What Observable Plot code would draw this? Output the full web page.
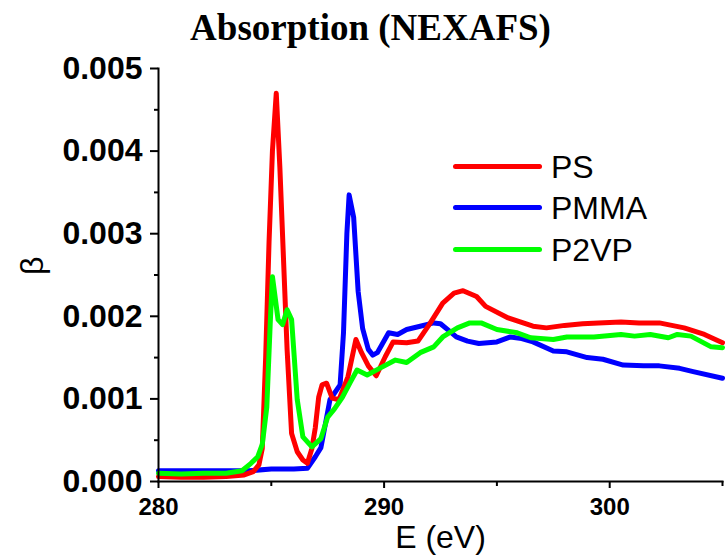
<!DOCTYPE html>
<html>
<head>
<meta charset="utf-8">
<script src="https://cdn.jsdelivr.net/npm/d3@7"></script>
<script src="https://cdn.jsdelivr.net/npm/@observablehq/plot@0.6"></script>
<style>
  html, body { margin: 0; padding: 0; background: #fff; }
  #wrap { position: relative; width: 725px; height: 555px; overflow: hidden; }
  .leg-line { position: absolute; height: 5px; border-radius: 2.5px; }
  .leg-text { position: absolute; font: 32px "Liberation Sans", Arial, sans-serif; line-height: 32px; color: #000; white-space: nowrap; }
</style>
</head>
<body>
<div id="wrap"></div>
<script>
// ---- Data ----
const titleText = "Absorption (NEXAFS)";
const xLabel = "E (eV)";
const yLabel = "β";
const seriesNames = ["PS", "PMMA", "P2VP"];
const seriesColors = ["#ff0000", "#0000ff", "#00ff00"];

const xMajorTicks = [280, 290, 300];
const xMinorTicks = [285, 295, 305];
const yMajorTicks = [0, 0.001, 0.002, 0.003, 0.004, 0.005];
const yMinorTicks = [0.0005, 0.0015, 0.0025, 0.0035, 0.0045];

const psE = [280, 281, 282, 283, 283.8, 284.2, 284.45, 284.6, 284.75, 284.9, 285.05, 285.22, 285.38, 285.54, 285.7, 285.9, 286.15, 286.4, 286.6, 286.8, 286.95, 287.1, 287.25, 287.45, 287.7, 288.0, 288.4, 288.75, 289.0, 289.3, 289.65, 290.05, 290.4, 291.0, 291.5, 292.0, 292.6, 293.1, 293.5, 294.1, 294.5, 295.5, 296.6, 297.2, 298.0, 298.8, 299.5, 300.5, 301.3, 302.2, 303.3, 304.2, 305];
const psB = [0.00006, 0.00005, 0.00005, 0.00006, 0.00008, 0.00012, 0.0002, 0.0004, 0.0015, 0.0029, 0.0040, 0.0047, 0.0038, 0.0027, 0.0016, 0.00058, 0.00036, 0.00026, 0.00022, 0.0004, 0.00065, 0.00102, 0.00117, 0.00119, 0.00101, 0.00099, 0.00127, 0.00172, 0.00156, 0.0014, 0.00128, 0.00151, 0.00169, 0.00168, 0.0017, 0.0019, 0.00216, 0.00228, 0.00231, 0.00224, 0.00212, 0.00198, 0.00188, 0.00186, 0.00189, 0.00191, 0.00192, 0.00193, 0.00192, 0.00192, 0.00186, 0.00178, 0.00168];

const pmmaE = [280, 282, 284, 285, 286, 286.6, 286.95, 287.2, 287.6, 288.05, 288.2, 288.35, 288.45, 288.65, 288.85, 289.05, 289.3, 289.5, 289.7, 290.2, 290.6, 291.0, 291.6, 292.2, 292.5, 292.9, 293.2, 293.7, 294.2, 295.0, 295.6, 296.1, 296.6, 297.5, 298.1, 299.0, 299.7, 300.6, 301.5, 302.2, 303.1, 303.7, 305];
const pmmaB = [0.00013, 0.00013, 0.00013, 0.00015, 0.00015, 0.00016, 0.0003, 0.00041, 0.00099, 0.00117, 0.0018, 0.003, 0.00347, 0.0032, 0.0023, 0.00185, 0.0016, 0.00153, 0.00156, 0.0018, 0.00178, 0.00184, 0.00188, 0.00192, 0.00191, 0.00182, 0.00175, 0.0017, 0.00167, 0.00169, 0.00175, 0.00173, 0.00169, 0.00158, 0.00157, 0.0015, 0.00148, 0.00141, 0.0014, 0.0014, 0.00137, 0.00133, 0.00125];

const p2vpE = [280, 281, 282, 283, 283.7, 284.1, 284.4, 284.6, 284.8, 284.95, 285.05, 285.3, 285.5, 285.7, 285.9, 286.15, 286.4, 286.8, 287.2, 287.5, 287.8, 288.15, 288.5, 288.8, 289.25, 289.8, 290.5, 291.0, 291.6, 292.2, 292.6, 293.25, 293.8, 294.3, 295.0, 295.9, 296.5, 297.5, 298.1, 299.3, 300.5, 301.1, 301.8, 302.6, 303.0, 303.6, 304.5, 305];
const p2vpB = [0.0001, 0.00009, 0.0001, 0.0001, 0.00013, 0.00022, 0.0003, 0.00045, 0.0009, 0.0019, 0.00248, 0.00196, 0.0019, 0.00208, 0.00196, 0.00099, 0.00054, 0.00042, 0.00052, 0.00078, 0.00088, 0.00102, 0.0012, 0.00135, 0.00129, 0.00137, 0.00147, 0.00144, 0.00156, 0.00163, 0.00175, 0.00186, 0.00192, 0.00192, 0.00184, 0.0018, 0.00174, 0.00172, 0.00175, 0.00175, 0.00178, 0.00176, 0.00178, 0.00174, 0.00178, 0.00176, 0.00163, 0.00162];

// ---- Chart ----
const font = '"Liberation Sans", Arial, sans-serif';
const lineStyle = {strokeWidth: 5, strokeLinejoin: "round", strokeLinecap: "round"};

const chart = Plot.plot({
  width: 725,
  height: 555,
  marginLeft: 158,
  marginRight: 3,
  marginTop: 68,
  marginBottom: 74,
  style: {fontFamily: font, background: "#fff", color: "#000"},
  x: {domain: [280, 305]},
  y: {domain: [0, 0.005]},
  marks: [
    Plot.line(pmmaB, {x: pmmaE, y: pmmaB, stroke: seriesColors[1], ...lineStyle}),
    Plot.line(psB, {x: psE, y: psB, stroke: seriesColors[0], ...lineStyle}),
    Plot.line(p2vpB, {x: p2vpE, y: p2vpB, stroke: seriesColors[2], ...lineStyle}),
    Plot.frame({anchor: "left", strokeWidth: 2}),
    Plot.frame({anchor: "bottom", strokeWidth: 2}),
    Plot.axisY(yMajorTicks, {tickSize: 8, tickPadding: 8, strokeWidth: 2, tickFormat: d3.format(".3f"),
      fontSize: 32, fontWeight: "bold", fontFamily: font, label: null}),
    Plot.axisY(yMinorTicks, {tickSize: 4, strokeWidth: 2, tickFormat: () => "", label: null}),
    Plot.axisX(xMajorTicks, {tickSize: 7, tickPadding: 9, strokeWidth: 2, tickFormat: d3.format("d"),
      fontSize: 24, fontWeight: "bold", fontFamily: font, label: null}),
    Plot.axisX(xMinorTicks, {tickSize: 5, strokeWidth: 2, tickFormat: () => "", label: null}),
    Plot.text([xLabel], {frameAnchor: "bottom", dy: 66, fontSize: 32, fontFamily: font}),
    Plot.text([yLabel], {frameAnchor: "left", dx: -126, rotate: -90, fontSize: 32, fontFamily: font}),
    Plot.text([titleText], {frameAnchor: "top", dx: -70, dy: -55, fontSize: 37, fontWeight: "bold",
      fontFamily: '"Liberation Serif", "Times New Roman", serif'})
  ]
});

const wrap = document.getElementById("wrap");
wrap.appendChild(chart);

// ---- Legend (HTML overlay) ----
const legLeft = 453, legLineW = 89, legTextLeft = 551, legTop = 166.7, legStep = 41.2;
seriesNames.forEach((name, i) => {
  const cy = legTop + i * legStep;
  const ln = document.createElement("div");
  ln.className = "leg-line";
  ln.style.left = legLeft + "px";
  ln.style.top = (cy - 2.5) + "px";
  ln.style.width = legLineW + "px";
  ln.style.background = seriesColors[i];
  wrap.appendChild(ln);
  const tx = document.createElement("div");
  tx.className = "leg-text";
  tx.style.left = legTextLeft + "px";
  tx.style.top = (cy - 15.5) + "px";
  tx.textContent = name;
  wrap.appendChild(tx);
});
</script>
</body>
</html>
